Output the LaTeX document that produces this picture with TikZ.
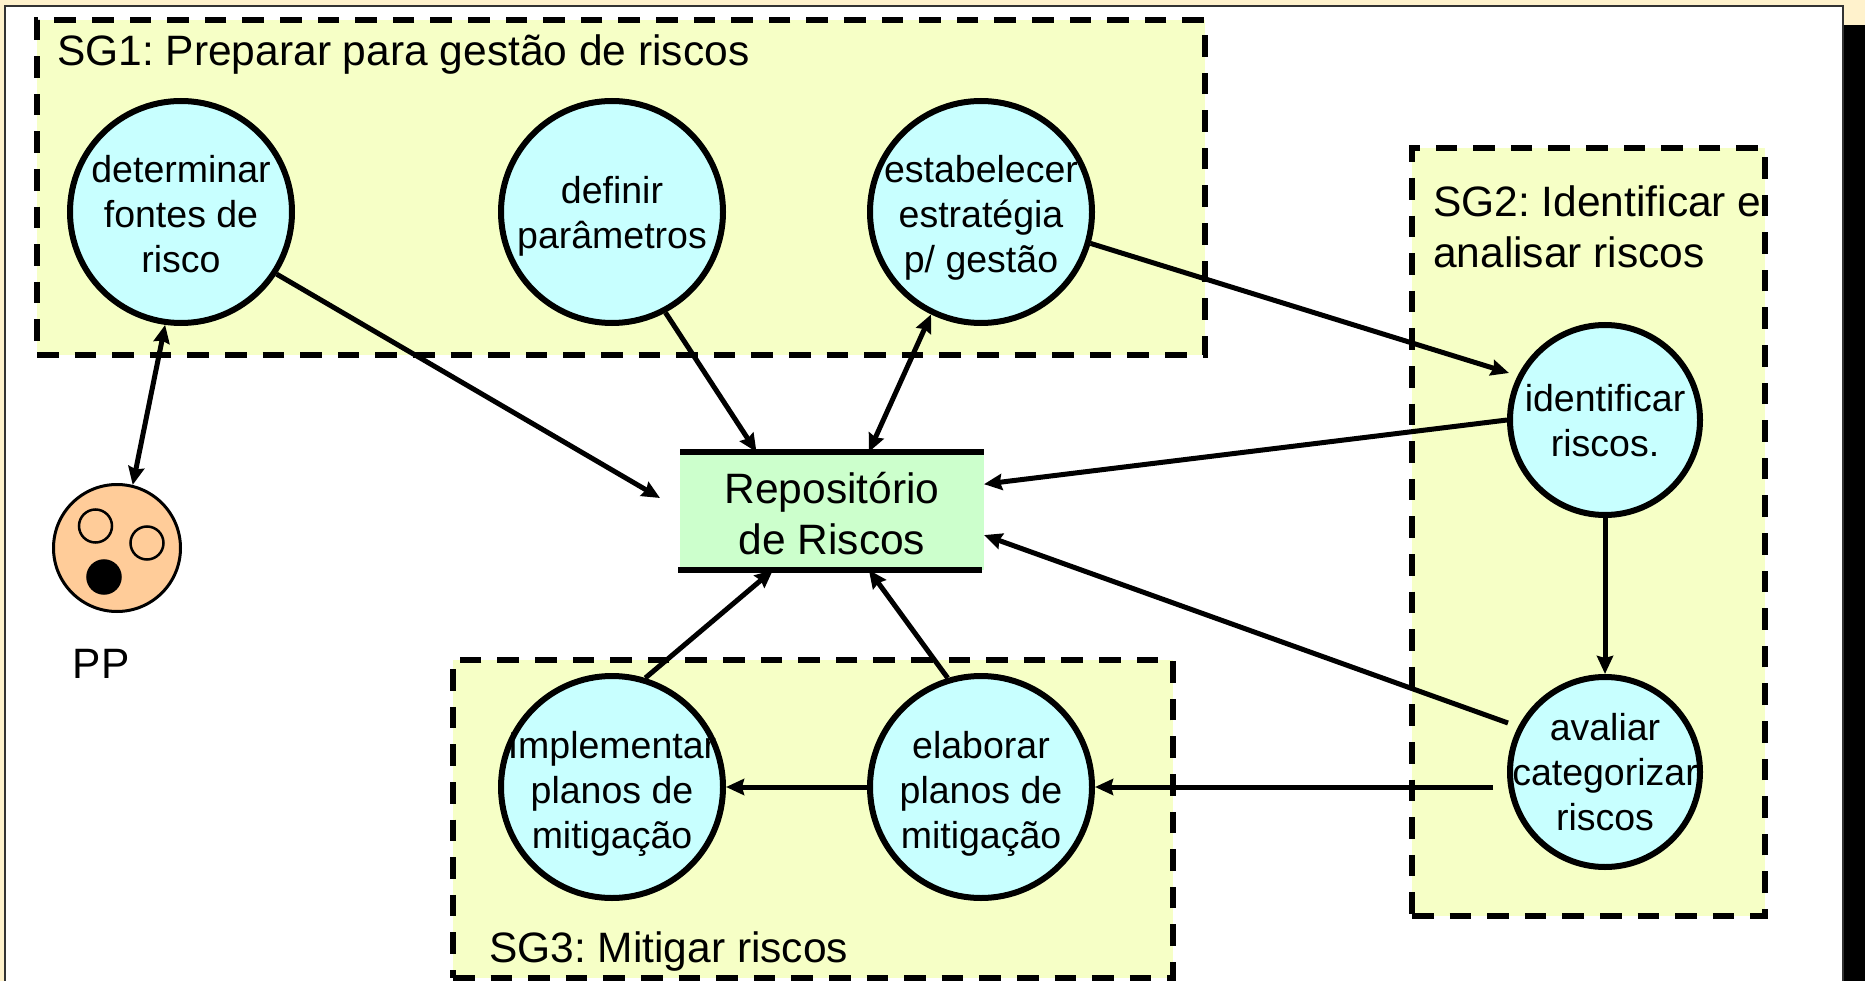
\documentclass[tikz,border=0pt]{standalone}
\usepackage{fontspec}
\setmainfont{Liberation Sans}
\usetikzlibrary{calc}
\usetikzlibrary{positioning}
\usetikzlibrary{arrows.meta}
\definecolor{cream}{HTML}{FFF2CC}
\definecolor{goalfill}{HTML}{F6FFC6}
\definecolor{stepfill}{HTML}{C8FFFF}
\definecolor{repofill}{HTML}{CCFFCC}
\definecolor{facefill}{HTML}{FFCC99}

\begin{document}
\frenchspacing
\begin{tikzpicture}[x=1pt,y=1pt,on grid,>={Stealth[length=18pt,width=16pt,inset=2pt]}]
			\tikzset{stepnode/.style={circle,draw,fill=stepfill,line width=6pt,minimum size=222pt,inner sep=-40pt,align=center,text depth=0pt,font=\fontsize{37.5}{45}\selectfont}}
			\tikzset{threeline/.style={stepnode,text height=122pt}}
			\tikzset{smallstep/.style={stepnode,minimum size=190pt}}
			\tikzset{goalbox/.style={rectangle,draw,fill=goalfill,line width=5.2pt,dash pattern=on 21.6pt off 16pt,inner sep=0pt}}
			\tikzset{goaltext/.style={anchor=west,inner sep=0pt,align=left,font=\fontsize{42.5}{51}\selectfont}}
			\tikzset{facepart/.style={circle,draw,line width=2.5pt,inner sep=0pt,minimum size=33pt}}
			\tikzstyle{every edge}=[draw,->,line width=5pt]
			\useasboundingbox (0,-981) rectangle (1865,0);
			% Page background
			\fill[cream] (0,-981) rectangle (1865,0);
			\fill[black] (1843,-981) rectangle (1865,-25);
			\fill[white,draw=black!80,line width=2pt] (5,-990) rectangle (1843,-6);
			% Goal boxes
			\node[goalbox,minimum width=1168pt,minimum height=335pt] (SG1) at (621,-187.5) {};
			\node[goalbox,minimum width=353pt,minimum height=768pt] (SG2) at (1588.5,-532) {};
			\node[goalbox,minimum width=720pt,minimum height=318pt] (SG3) at (813,-819) {};
			\node[goaltext] (SG1text) at (57,-55) {SG1: Preparar para gestão de riscos};
			\node[goaltext] (SG2text) at (1433,-226.5) {SG2: Identificar e\\analisar riscos};
			\node[goaltext] (SG3text) at (489,-952) {SG3: Mitigar riscos};
			% Place Nodes
			\node[threeline] (FONTES) at (181,-212) {determinar\\fontes de\\risco};
			\node[stepnode] (PARAM) [right=431pt of FONTES] {definir\\parâmetros};
			\node[threeline] (ESTRAT) [right=369pt of PARAM] {estabelecer\\estratégia\\p/ gestão};
			\node[threeline] (IMPL) [below=575pt of PARAM] {Implementar\\planos de\\mitigação};
			\node[threeline] (PLANOS) [right=369pt of IMPL] {elaborar\\planos de\\mitigação};
			\node[smallstep] (IDENT) at (1605,-420) {identificar\\riscos.};
			\node[smallstep] (AVAL) [below=352pt of IDENT] {avaliar\\categorizar\\riscos};
			\node[rectangle,fill=repofill,minimum width=304pt,minimum height=118pt,inner sep=0pt,outer sep=0pt,align=center,text depth=0pt,text height=87pt,font=\fontsize{42.5}{51}\selectfont] (REPO) at (832,-511) {Repositório\\de Riscos};
			\draw[line width=5.5pt] (REPO.north west) -- (REPO.north east);
			\draw[line width=5.5pt] ($(REPO.south west)+(-2,0)$) -- ($(REPO.south east)+(-2,0)$);
			% PP face
			\node[circle,draw,fill=facefill,line width=3pt,minimum size=127pt,inner sep=0pt] (PPFACE) at (117,-548) {};
			\node[facepart] (EYE1) [above left=22pt and 21.5pt of PPFACE] {};
			\node[facepart] (EYE2) [above right=5pt and 30pt of PPFACE] {};
			\node[facepart,fill=black] (MOUTH) [below left=29pt and 13pt of PPFACE] {};
			\node[inner sep=0pt,font=\fontsize{42.5}{51}\selectfont] (PP) at (101,-664) {PP};
			% Free ends
			\coordinate (REPOIN) at (660,-498);
			\coordinate (IDENTIN) at (1509,-373);
			\coordinate (AVALOUT1) at (1508,-723);
			\coordinate (AVALOUT2) at (1493,-787);
			% Draw flow paths
			\path
			(FONTES.-98) edge[<->] (PPFACE.76)
			(FONTES.-33) edge (REPOIN)
			(PARAM.-62) edge (REPO.142)
			(ESTRAT.-116) edge[<->] (REPO.58)
			(ESTRAT.-16) edge (IDENTIN)
			(IDENT.west) edge (REPO.10)
			(IDENT.south) edge (AVAL.north)
			(AVALOUT1) edge (REPO.-9)
			(AVALOUT2) edge (PLANOS.east)
			(PLANOS.west) edge (IMPL.east)
			(IMPL.73) edge (REPO.-135)
			(PLANOS.107) edge (REPO.-58);
			\end{tikzpicture}
\end{document}
